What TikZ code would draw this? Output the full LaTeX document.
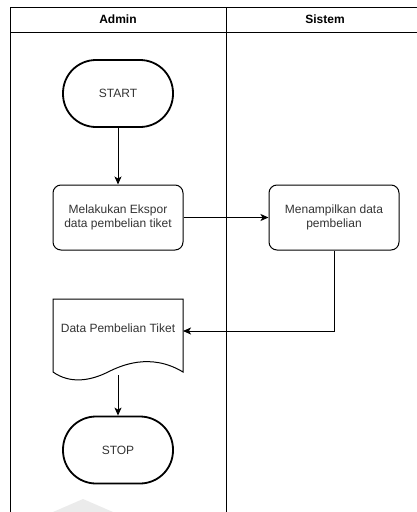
\documentclass[tikz,border=0pt]{standalone}
\usepackage{fontspec}
\setmainfont{Liberation Sans}
\usetikzlibrary{arrows.meta}

\begin{document}
\begin{tikzpicture}[x=1pt, y=-1pt, line width=1pt,
	>={Stealth[length=8pt, width=7pt, inset=2pt]},
	txt/.style={text=black!80, font=\fontsize{12}{14}\selectfont, align=center},
	terminal/.style={txt, draw, line width=1.8pt, rounded corners=33pt, minimum width=110pt, minimum height=67pt},
	process/.style={txt, draw, rounded corners=8pt, minimum width=130pt, minimum height=65pt}]

	\useasboundingbox (0,0) rectangle (417,512);

	% faint mark at the bottom
	\fill[black!8] (53,512) -- (83,499) -- (113,512) -- cycle;

	% lanes
	\coordinate (TL) at (10,7);
	\coordinate (TR) at (417,7);
	\coordinate (BL) at (10,512);
	\coordinate (HL) at (10,32);
	\coordinate (HR) at (417,32);
	\coordinate (DT) at (226,7);
	\coordinate (DB) at (226,512);

	\draw (BL) -- (TL) -- (TR);
	\draw (HL) -- (HR);
	\draw (DT) -- (DB);

	\node[font=\fontsize{12}{14}\selectfont\bfseries] (admin) at (118,19.5) {Admin};
	\node[font=\fontsize{12}{14}\selectfont\bfseries] (sistem) at (325,19.5) {Sistem};

	% steps
	\node[terminal] (start) at (118,93.5) {START};
	\node[process] (ekspor) at (118,217.5) {Melakukan Ekspor\\data pembelian tiket};
	\node[process] (tampil) at (334,217.5) {Menampilkan data\\pembelian};
	\node[terminal] (stop) at (118,450) {STOP};

	% document
	\coordinate (docTL) at (53,299);
	\coordinate (docTR) at (183,299);
	\coordinate (docBL) at (53,372);
	\coordinate (docBR) at (183,372);
	\draw (docBL) -- (docTL) -- (docTR) -- (docBR)
		.. controls (150,352) and (120,366) .. (108,372)
		.. controls (90,381) and (70,384) .. (docBL);
	\node[txt, inner sep=0pt] (dokumen) at (118,328) {Data Pembelian Tiket};
	\coordinate (docIn) at (183,331);
	\coordinate (docOut) at (118,375);
	\coordinate (turn) at (334,331);

	% flow
	\draw[->] (start) -- (ekspor);
	\draw[->] (ekspor) -- (tampil);
	\draw[->] (tampil) -- (turn) -- (docIn);
	\draw[->] (docOut) -- (stop);

\end{tikzpicture}
\end{document}
